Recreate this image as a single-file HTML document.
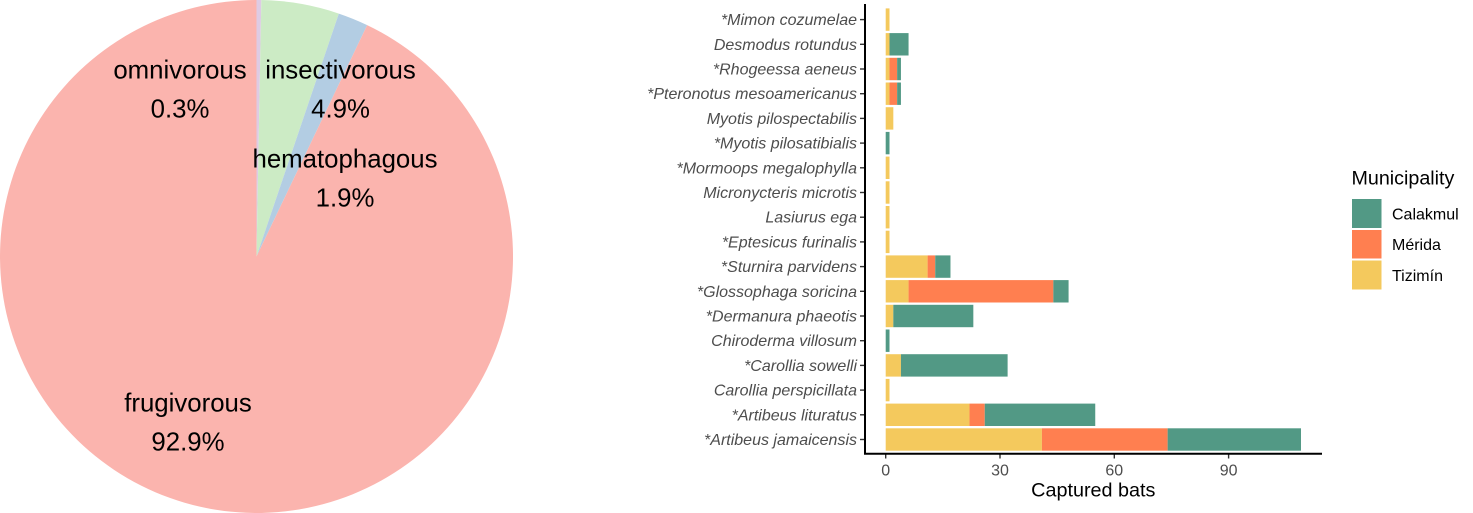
<!DOCTYPE html>
<html lang="en">
<head>
<meta charset="utf-8">
<title>Bat diets and captures</title>
<style>
html,body{margin:0;padding:0;background:#fff;}
svg{display:block;font-family:"Liberation Sans",sans-serif;}
.pie-text{font-size:25.8px;fill:#000;text-anchor:middle;}
.y-label{font-size:16px;font-style:italic;fill:#4d4d4d;text-anchor:end;}
.x-label{font-size:16px;fill:#4d4d4d;text-anchor:middle;}
</style>
</head>
<body>
<svg id="figure" width="1473" height="513" viewBox="0 0 1473 513" xmlns="http://www.w3.org/2000/svg">
  <g id="pie"></g>
  <g>
    <text class="pie-text" x="180" y="78.5">omnivorous</text>
    <text class="pie-text pct" x="180" y="117.5">0.3%</text>
    <text class="pie-text" x="340.5" y="78.5">insectivorous</text>
    <text class="pie-text pct" x="340.5" y="117.5">4.9%</text>
    <text class="pie-text" x="345" y="167.5">hematophagous</text>
    <text class="pie-text pct" x="345" y="206.5">1.9%</text>
    <text class="pie-text" x="188" y="411.5">frugivorous</text>
    <text class="pie-text pct" x="188" y="450.5">92.9%</text>
  </g>
  <g id="bars"></g>
  <g id="axes"></g>
  <text x="1093.3" y="496.5" font-size="19.8" text-anchor="middle" fill="#000">Captured bats</text>
  <g id="legend">
    <text x="1351.5" y="184.5" font-size="19.7" fill="#000">Municipality</text>
    <rect x="1352" y="199" width="29.5" height="29" fill="#529985"/>
    <rect x="1352" y="230" width="29.5" height="28.5" fill="#FF7F50"/>
    <rect x="1352" y="260.5" width="29.5" height="29" fill="#F4C95D"/>
    <text x="1392" y="219.5" font-size="16" fill="#000">Calakmul</text>
    <text x="1392" y="250" font-size="16" fill="#000">Mérida</text>
    <text x="1392" y="281" font-size="16" fill="#000">Tizimín</text>
  </g>
</svg>
<script>
var pieCategories = ["omnivorous", "insectivorous", "hematophagous", "frugivorous"];
var pieValues = [0.3, 4.9, 1.9, 92.9];
var pieColors = ["#DECBE4", "#CCEBC5", "#B3CDE3", "#FBB4AE"];

var species = ["*Mimon cozumelae", "Desmodus rotundus", "*Rhogeessa aeneus", "*Pteronotus mesoamericanus", "Myotis pilospectabilis", "*Myotis pilosatibialis", "*Mormoops megalophylla", "Micronycteris microtis", "Lasiurus ega", "*Eptesicus furinalis", "*Sturnira parvidens", "*Glossophaga soricina", "*Dermanura phaeotis", "Chiroderma villosum", "*Carollia sowelli", "Carollia perspicillata", "*Artibeus lituratus", "*Artibeus jamaicensis"];
var tizimin = [1, 1, 1, 1, 2, 0, 1, 1, 1, 1, 11, 6, 2, 0, 4, 1, 22, 41];
var merida = [0, 0, 2, 2, 0, 0, 0, 0, 0, 0, 2, 38, 0, 0, 0, 0, 4, 33];
var calakmul = [0, 5, 1, 1, 0, 1, 0, 0, 0, 0, 4, 4, 21, 1, 28, 0, 29, 35];
var xTicks = [0, 30, 60, 90];

var NS = "http://www.w3.org/2000/svg";
function make(parent, tag, attrs, text) {
  var el = document.createElementNS(NS, tag);
  for (var k in attrs) el.setAttribute(k, attrs[k]);
  if (text !== undefined) el.textContent = text;
  parent.appendChild(el);
  return el;
}
function slug(s) {
  return s.replace(/\*/g, "").toLowerCase().replace(/\s+/g, "-");
}

/* pie */
var cx = 256.5, cy = 256.5, radius = 256.5;
var pieGroup = document.getElementById("pie");
var pieTotal = pieValues.reduce(function (a, b) { return a + b; }, 0);
var cumulative = 0;
function piePoint(fraction) {
  var a = fraction * 2 * Math.PI;
  return (cx + radius * Math.sin(a)).toFixed(2) + " " + (cy - radius * Math.cos(a)).toFixed(2);
}
pieValues.forEach(function (v, i) {
  var from = cumulative / pieTotal;
  cumulative += v;
  var to = cumulative / pieTotal;
  var large = (to - from) > 0.5 ? 1 : 0;
  var d = "M" + cx + " " + cy + " L" + piePoint(from) + " A" + radius + " " + radius + " 0 " + large + " 1 " + piePoint(to) + " Z";
  var slice = make(pieGroup, "path", { d: d, fill: pieColors[i] });
  
  
});
var pctLabels = document.querySelectorAll(".pct");
pieValues.forEach(function (v, i) {
  pctLabels[i].textContent = v.toFixed(1) + "%";
});

/* bars */
function xScale(v) { return 885.7 + v * 3.81; }
function yScale(i) { return 19.6 + i * 24.7; }
var barHeight = 22.4;
var barGroup = document.getElementById("bars");
var axisGroup = document.getElementById("axes");
var stacks = [
  { name: "tizimin", values: tizimin, color: "#F4C95D" },
  { name: "merida", values: merida, color: "#FF7F50" },
  { name: "calakmul", values: calakmul, color: "#529985" }
];
species.forEach(function (name, i) {
  var running = 0;
  stacks.forEach(function (s) {
    var v = s.values[i];
    if (v <= 0) return;
    var bar = make(barGroup, "rect", {
      x: xScale(running).toFixed(2),
      y: (yScale(i) - barHeight / 2).toFixed(2),
      width: (xScale(running + v) - xScale(running)).toFixed(2),
      height: barHeight,
      fill: s.color
    });
    
    
    running += v;
  });
  var tick = make(axisGroup, "line", { x1: 860, x2: 865, y1: yScale(i), y2: yScale(i), stroke: "#333", "stroke-width": 1.4 });
  
  
  var label = make(axisGroup, "text", { "class": "y-label", x: 857, y: yScale(i) + 5.5 }, name);
  
  
});
xTicks.forEach(function (t) {
  var tick = make(axisGroup, "line", { x1: xScale(t), x2: xScale(t), y1: 453, y2: 458.5, stroke: "#333", "stroke-width": 1.4 });
  
  
  var label = make(axisGroup, "text", { "class": "x-label", x: xScale(t), y: 475.5 }, String(t));
  
  
});
var yAxis = make(axisGroup, "line", { x1: 865, x2: 865, y1: 4, y2: 454.5, stroke: "#000", "stroke-width": 2 });


var xAxis = make(axisGroup, "line", { x1: 864, x2: 1322, y1: 453.7, y2: 453.7, stroke: "#000", "stroke-width": 2 });


</script>
</body>
</html>
